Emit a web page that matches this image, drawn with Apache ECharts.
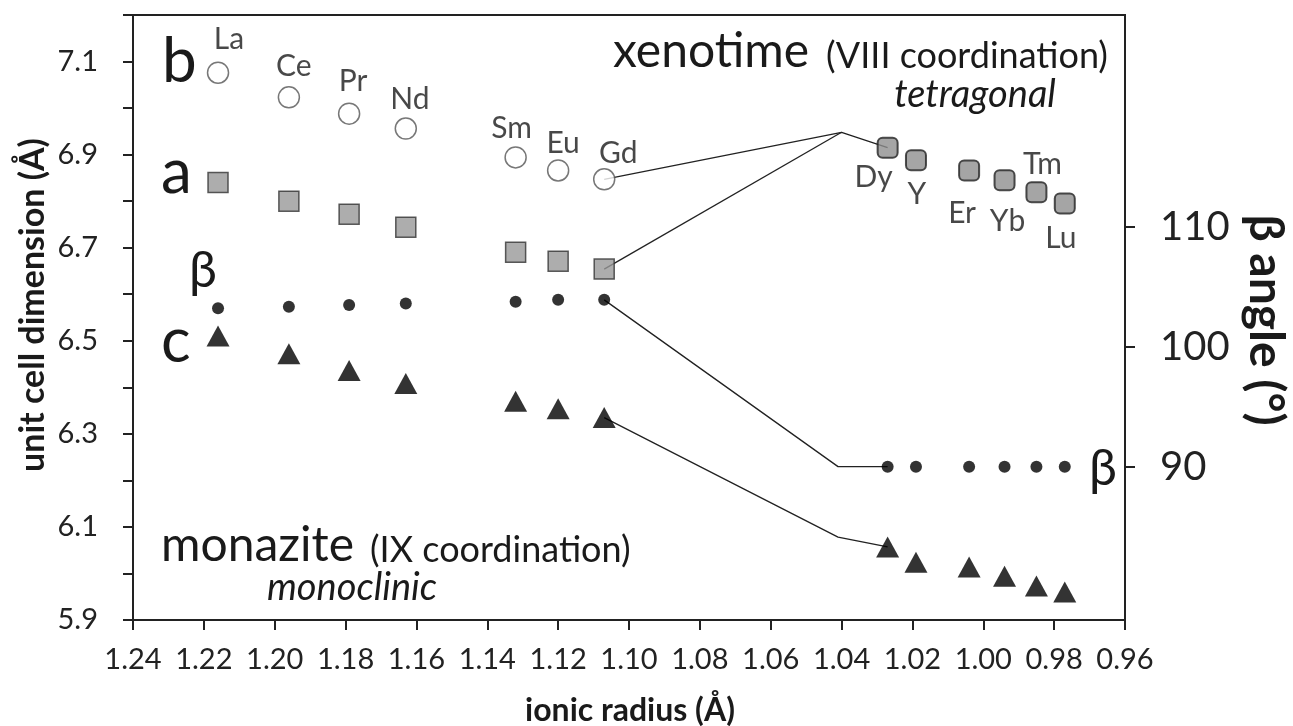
<!DOCTYPE html>
<html><head><meta charset="utf-8">
<script src="https://cdn.jsdelivr.net/npm/echarts@6/dist/echarts.min.js"></script>
<style>html,body{margin:0;padding:0;background:#fff}#chart{width:1293px;height:726px}</style>
</head><body><div id="chart"></div>
<script>
// ---- data ----
const monaziteElements = ['La','Ce','Pr','Nd','Sm','Eu','Gd'];
const monaziteRadius   = [1.216, 1.196, 1.179, 1.163, 1.132, 1.120, 1.107];
const monaziteB        = [7.076, 7.023, 6.988, 6.956, 6.894, 6.866, 6.847];
const monaziteA        = [6.840, 6.800, 6.772, 6.744, 6.690, 6.671, 6.654];
const monaziteC        = [6.510, 6.472, 6.436, 6.408, 6.370, 6.354, 6.335];
const monaziteBeta     = [103.2, 103.33, 103.47, 103.6, 103.75, 103.9, 103.9];

const xenotimeElements = ['Dy','Y','Er','Yb','Tm','Lu']; // labels as printed in the figure
const xenotimeRadius   = [1.027, 1.019, 1.004, 0.994, 0.985, 0.977];
const xenotimeA        = [6.915, 6.888, 6.866, 6.845, 6.819, 6.795];
const xenotimeC        = [6.057, 6.024, 6.014, 5.994, 5.973, 5.960];
const xenotimeBeta     = [90, 90, 90, 90, 90, 90];

// connector polylines (ionic radius, value)
const connB    = [[1.107, 6.847], [1.040, 6.948], [1.027, 6.915]];
const connA    = [[1.107, 6.654], [1.040, 6.948]];
const connBeta = [[1.107, 103.9], [1.041, 90], [1.027, 90]];
const connC    = [[1.107, 6.335], [1.041, 6.078], [1.027, 6.057]];

const leftAxisLabels  = ['5.9','6.1','6.3','6.5','6.7','6.9','7.1'];
const rightAxisTicks  = [90, 100, 110];

// ---- label offsets (px) ----
const monLabelOffsets = [[11,-33],[5,-31],[4,-32],[4,-29],[-4,-29],[5,-27],[14,-26]];
const xenLabelOffsets = [[-14,30],[1,34],[-7,43],[3,41],[6,-28],[-4,35]];

const FONT = 'Lato';
const ink = '#1a1a1a';
const ZWNJ = '\u200C'; // prevents the "ti" ligature

function pts(xs, ys, offs) {
  return xs.map((x, i) => {
    const d = { value: [x, ys[i]] };
    if (offs) d.label = { offset: offs[i] };
    return d;
  });
}

const chart = echarts.init(document.getElementById('chart'), null, { renderer: 'canvas' });

function txt(x, y, text, font, align, extra) {
  return Object.assign({ type: 'text', x: x, y: y, silent: true,
    style: { text: text, font: font, fill: ink, textAlign: align || 'left', textVerticalAlign: 'middle' } }, extra || {});
}

const option = {
  animation: false,
  backgroundColor: '#fff',
  grid: { left: 133, right: 168, top: 15, bottom: 106, show: true, borderColor: '#222', borderWidth: 2, backgroundColor: 'transparent' },
  xAxis: {
    type: 'value', min: 0.96, max: 1.24, interval: 0.02, inverse: true,
    splitLine: { show: false },
    axisLine: { show: true, onZero: false, lineStyle: { color: '#222', width: 2 } },
    axisTick: { show: true, inside: false, length: 10, lineStyle: { color: '#222', width: 2 } },
    axisLabel: { margin: 25, color: '#222', fontFamily: FONT, fontSize: 29, formatter: v => v.toFixed(2) }
  },
  yAxis: [
    {
      type: 'value', min: 5.9, max: 7.2, interval: 0.1, position: 'left',
      splitLine: { show: false },
      axisLine: { show: true, lineStyle: { color: '#222', width: 2 } },
      axisTick: { show: true, inside: false, length: 10, lineStyle: { color: '#222', width: 2 } },
      axisLabel: {
        margin: 35, color: '#222', fontFamily: FONT, fontSize: 29,
        formatter: v => { const s = v.toFixed(1); return leftAxisLabels.indexOf(s) >= 0 ? s : ''; }
      }
    },
    {
      type: 'value', min: 77.22, max: 127.64, position: 'right',
      splitLine: { show: false },
      axisLine: { show: true, lineStyle: { color: '#222', width: 2 } },
      axisTick: { show: true, inside: false, length: 10, customValues: rightAxisTicks, lineStyle: { color: '#222', width: 2 } },
      axisLabel: { margin: 35, color: '#222', fontFamily: FONT, fontSize: 40, customValues: rightAxisTicks }
    }
  ],
  series: [
    { type: 'line', data: connB, symbol: 'none', lineStyle: { color: '#222', width: 1.3 }, z: 1, silent: true },
    { type: 'line', data: connA, symbol: 'none', lineStyle: { color: '#222', width: 1.3 }, z: 1, silent: true },
    { type: 'line', data: connBeta, yAxisIndex: 1, symbol: 'none', lineStyle: { color: '#222', width: 1.3 }, z: 1, silent: true },
    { type: 'line', data: connC, symbol: 'none', lineStyle: { color: '#222', width: 1.3 }, z: 1, silent: true },
    {
      name: 'monazite b', type: 'scatter', z: 5, data: pts(monaziteRadius, monaziteB, monLabelOffsets),
      symbol: 'circle', symbolSize: 21,
      itemStyle: { color: '#fff', borderColor: '#555', borderWidth: 1.5 },
      label: { show: true, position: 'inside', formatter: p => monaziteElements[p.dataIndex], fontFamily: FONT, fontSize: 30, color: ink }
    },
    {
      name: 'monazite a', type: 'scatter', z: 5, data: pts(monaziteRadius, monaziteA),
      symbol: 'rect', symbolSize: 20,
      itemStyle: { color: '#999', borderColor: '#333', borderWidth: 1.5 }
    },
    {
      name: 'monazite c', type: 'scatter', z: 5, data: pts(monaziteRadius, monaziteC),
      symbol: 'triangle', symbolSize: [23, 21], itemStyle: { color: '#000' }
    },
    {
      name: 'monazite beta', type: 'scatter', z: 5, yAxisIndex: 1, data: pts(monaziteRadius, monaziteBeta),
      symbol: 'circle', symbolSize: 12, itemStyle: { color: '#000' }
    },
    {
      name: 'xenotime a', type: 'scatter', z: 5, data: pts(xenotimeRadius, xenotimeA, xenLabelOffsets),
      symbol: 'roundRect', symbolSize: 20,
      itemStyle: { color: '#8e8e8e', borderColor: '#222', borderWidth: 2 },
      label: { show: true, position: 'inside', formatter: p => xenotimeElements[p.dataIndex], fontFamily: FONT, fontSize: 30, color: ink }
    },
    {
      name: 'xenotime c', type: 'scatter', z: 5, data: pts(xenotimeRadius, xenotimeC),
      symbol: 'triangle', symbolSize: [23, 21], itemStyle: { color: '#000' }
    },
    {
      name: 'xenotime beta', type: 'scatter', z: 5, yAxisIndex: 1, data: pts(xenotimeRadius, xenotimeBeta),
      symbol: 'circle', symbolSize: 12, itemStyle: { color: '#000' }
    }
  ],
  graphic: [
    txt(162, 62, 'b', '62px ' + FONT),
    txt(161, 173, 'a', '62px ' + FONT),
    txt(161, 342, 'c', '62px ' + FONT),
    txt(203, 271, 'β', '50px ' + FONT, 'center'),
    txt(1103, 469, 'β', '50px ' + FONT, 'center'),
    txt(613, 52, 'xenotime', '48px ' + FONT),
    txt(826, 56, '(VIII coordina' + ZWNJ + 'tion)', '36px ' + FONT),
    txt(975, 95, 'tetragonal', 'italic 38px ' + FONT, 'center'),
    txt(161, 546, 'monazite', '48px ' + FONT),
    txt(370, 550, '(IX coordina' + ZWNJ + 'tion)', '36px ' + FONT),
    txt(352, 588, 'monoclinic', 'italic 38px ' + FONT, 'center'),
    txt(33, 305, 'unit cell dimension (Å)', 'bold 34px ' + FONT, 'center', { rotation: Math.PI / 2 }),
    txt(630, 711, 'ionic radius (Å)', 'bold 32px ' + FONT, 'center'),
    txt(1265, 320, 'β angle (°)', 'bold 48px ' + FONT, 'center', { rotation: -Math.PI / 2 })
  ]
};
chart.setOption(option);
</script>
</body></html>
